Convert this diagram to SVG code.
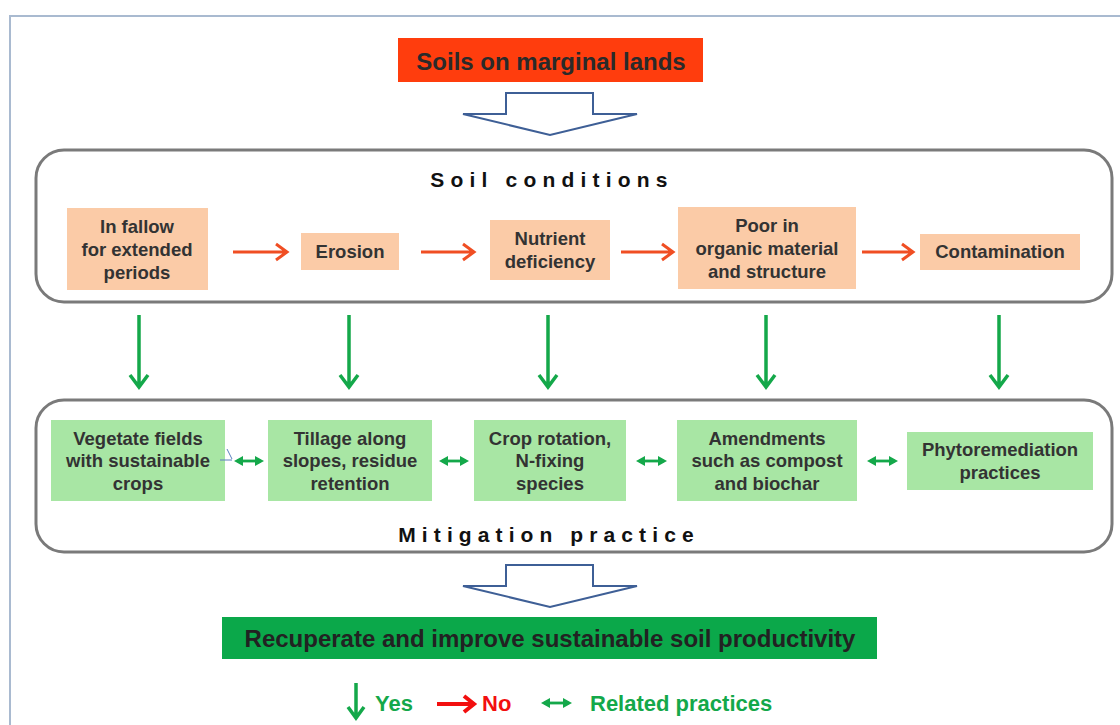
<svg xmlns="http://www.w3.org/2000/svg" width="1120" height="725" viewBox="0 0 1120 725">
<style>
text{font-family:"Liberation Sans",Arial,sans-serif;font-weight:bold}
.bt{font-size:18.5px;fill:#333;text-anchor:middle}
.peach{fill:#FBCBA7}
.lg{fill:#A8E6A4}
.panel{fill:#fff;stroke:#7a7a7a;stroke-width:3}
.hollow{fill:#fff;stroke:#3e5f96;stroke-width:2;stroke-linejoin:miter}
.title{font-size:21px;fill:#111;text-anchor:middle}
.red{stroke:#F04E23;stroke-width:3;fill:none}
.grn{stroke:#14A84A;stroke-width:3.5;fill:none}
.dbl{stroke:#14A84A;stroke-width:2.8;fill:none}
</style>
<defs>
<marker id="dh" markerWidth="10" markerHeight="10" refX="6" refY="5" orient="auto-start-reverse" markerUnits="userSpaceOnUse">
<path d="M0,0 L9,5 L0,10 Z" fill="#14A84A"/>
</marker>
</defs>
<rect width="1120" height="725" fill="#fff"/>
<rect x="10" y="16" width="1200" height="800" fill="none" stroke="#a9bad0" stroke-width="2"/>

<g id="top">
<rect x="398" y="38" width="305" height="44" fill="#FF3D0D"/>
<text x="551" y="70" font-size="24" fill="#2a2a2a" text-anchor="middle">Soils on marginal lands</text>
</g>
<g id="hollow1">
<path class="hollow" d="M506,93 L593,93 L593,114 L637,114 L550,135 L463,114 L506,114 Z"/>
</g>

<g id="soil-panel">
<rect class="panel" x="36" y="150" width="1076" height="152" rx="28"/>
<text class="title" x="552" y="187" letter-spacing="6.2">Soil conditions</text>
</g>
<g id="fallow"><rect class="peach" x="67" y="208" width="141" height="82"/>
<text class="bt" x="137" y="233">In fallow</text><text class="bt" x="137" y="256">for extended</text><text class="bt" x="137" y="279">periods</text></g>
<g id="erosion"><rect class="peach" x="301" y="233" width="98" height="37"/>
<text class="bt" x="350" y="258">Erosion</text></g>
<g id="nutrient"><rect class="peach" x="490" y="220" width="120" height="60"/>
<text class="bt" x="550" y="245">Nutrient</text><text class="bt" x="550" y="268">deficiency</text></g>
<g id="poor"><rect class="peach" x="678" y="207" width="178" height="82"/>
<text class="bt" x="767" y="232">Poor in</text><text class="bt" x="767" y="255">organic material</text><text class="bt" x="767" y="278">and structure</text></g>
<g id="contamination"><rect class="peach" x="920" y="234" width="160" height="36"/>
<text class="bt" x="1000" y="258">Contamination</text></g>

<g id="mit-panel">
<rect class="panel" x="36" y="400" width="1076" height="152" rx="28"/>
<text class="title" x="549" y="542" letter-spacing="6.1">Mitigation practice</text>
</g>
<g id="vegetate"><rect class="lg" x="51" y="420" width="174" height="81"/>
<text class="bt" x="138" y="445">Vegetate fields</text><text class="bt" x="138" y="467">with sustainable</text><text class="bt" x="138" y="490">crops</text></g>
<g id="tillage"><rect class="lg" x="268" y="420" width="164" height="81"/>
<text class="bt" x="350" y="445">Tillage along</text><text class="bt" x="350" y="467">slopes, residue</text><text class="bt" x="350" y="490">retention</text></g>
<g id="rotation"><rect class="lg" x="474" y="420" width="152" height="81"/>
<text class="bt" x="550" y="445">Crop rotation,</text><text class="bt" x="550" y="467">N-fixing</text><text class="bt" x="550" y="490">species</text></g>
<g id="amend"><rect class="lg" x="677" y="420" width="180" height="81"/>
<text class="bt" x="767" y="445">Amendments</text><text class="bt" x="767" y="467">such as compost</text><text class="bt" x="767" y="490">and biochar</text></g>
<g id="phyto"><rect class="lg" x="907" y="432" width="186" height="58"/>
<text class="bt" x="1000" y="456">Phytoremediation</text><text class="bt" x="1000" y="479">practices</text></g>

<g id="hollow2">
<path class="hollow" d="M506,565 L593,565 L593,586 L637,586 L550,607 L463,586 L506,586 Z"/>
</g>
<g id="result">
<rect x="222" y="617" width="655" height="42" fill="#0BA84A"/>
<text x="550" y="647" font-size="24" fill="#222" text-anchor="middle">Recuperate and improve sustainable soil productivity</text>
</g>

<g id="connectors">
<g class="red">
<path d="M233,252 H286 M276,244 L287,252 L276,260"/>
<path d="M421,252 H473 M463,244 L474,252 L463,260"/>
<path d="M621,252 H672 M662,244 L673,252 L662,260"/>
<path d="M862,252 H912 M902,244 L913,252 L902,260"/>
</g>
<g class="grn">
<path d="M139,315 V386 M130,375 L139,387 L148,375"/>
<path d="M349,315 V386 M340,375 L349,387 L358,375"/>
<path d="M548,315 V386 M539,375 L548,387 L557,375"/>
<path d="M766,315 V386 M757,375 L766,387 L775,375"/>
<path d="M999,315 V386 M990,375 L999,387 L1008,375"/>
</g>
<g class="dbl">
<line x1="237" y1="461" x2="261" y2="461" marker-start="url(#dh)" marker-end="url(#dh)"/>
<line x1="442" y1="461" x2="466" y2="461" marker-start="url(#dh)" marker-end="url(#dh)"/>
<line x1="639" y1="461" x2="664" y2="461" marker-start="url(#dh)" marker-end="url(#dh)"/>
<line x1="870" y1="461" x2="895" y2="461" marker-start="url(#dh)" marker-end="url(#dh)"/>
</g>
<path d="M220,460 H232 M227,449 L232,459" stroke="#5a7fc0" stroke-width="1" fill="none"/>
</g>

<g id="legend">
<path class="grn" d="M356,683 V717 M348,707 L356,718 L364,707"/>
<text x="375" y="711" font-size="22" fill="#14A84A">Yes</text>
<path d="M437,704 H473 M464,696 L474,704 L464,712" stroke="#F20F0F" stroke-width="4" fill="none"/>
<text x="482" y="711" font-size="22" fill="#F20F0F">No</text>
<line x1="544" y1="703" x2="569" y2="703" class="dbl" marker-start="url(#dh)" marker-end="url(#dh)"/>
<text x="590" y="711" font-size="22" fill="#14A84A">Related practices</text>
</g>
</svg>
